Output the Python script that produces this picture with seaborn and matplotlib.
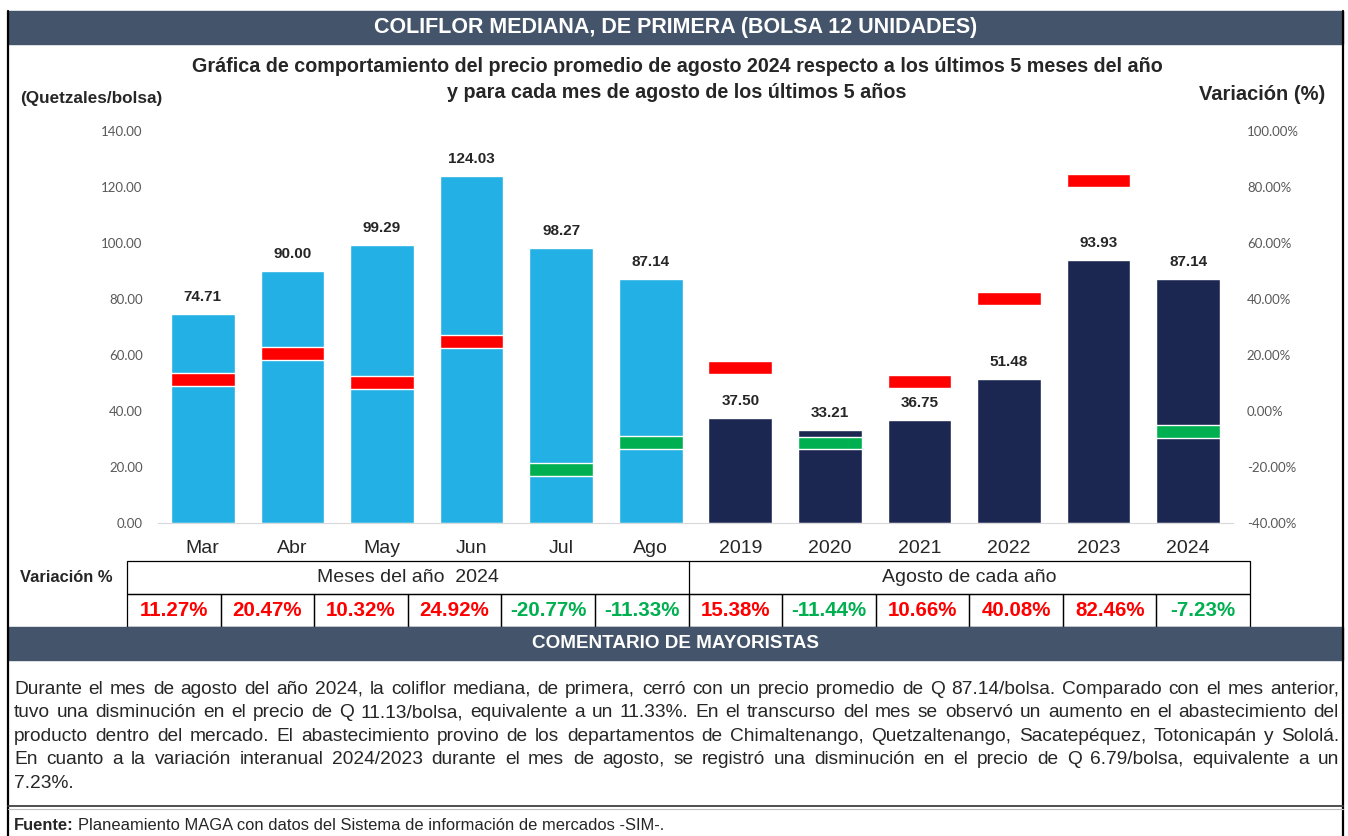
import matplotlib
matplotlib.use("Agg")
import matplotlib.pyplot as plt
import seaborn as sns
import pandas as pd
from matplotlib.patches import Rectangle
from matplotlib.ticker import FuncFormatter

# Data
categories = ['Mar', 'Abr', 'May', 'Jun', 'Jul', 'Ago',
              '2019', '2020', '2021', '2022', '2023', '2024']
groups = ['meses'] * 6 + ['agosto'] * 6
prices = [74.71, 90.00, 99.29, 124.03, 98.27, 87.14,
          37.50, 33.21, 36.75, 51.48, 93.93, 87.14]
variation = [11.27, 20.47, 10.32, 24.92, -20.77, -11.33,
             15.38, -11.44, 10.66, 40.08, 82.46, -7.23]
group_titles = ['Meses del año  2024', 'Agosto de cada año']

comment_lines = [
    "Durante el mes de agosto del año 2024, la coliflor mediana, de primera, cerró con un precio promedio de Q 87.14/bolsa. Comparado con el mes anterior,",
    "tuvo una disminución en el precio de Q 11.13/bolsa, equivalente a un 11.33%. En el transcurso del mes se observó un aumento en el abastecimiento del",
    "producto dentro del mercado. El abastecimiento provino de los departamentos de Chimaltenango, Quetzaltenango, Sacatepéquez, Totonicapán y Sololá.",
    "En cuanto a la variación interanual 2024/2023 durante el mes de agosto, se registró una disminución en el precio de Q 6.79/bolsa, equivalente a un",
    "7.23%.",
]

df = pd.DataFrame({'cat': categories, 'grupo': groups, 'precio': prices, 'var': variation})

sns.set_style('white')
plt.rcParams['font.family'] = ['Liberation Sans', 'DejaVu Sans']

W, H = 1348, 836
fig = plt.figure(figsize=(W / 100, H / 100), dpi=100)
fig.patch.set_facecolor('white')

# overlay axes in pixel coordinates (y grows downwards)
ov = fig.add_axes([0, 0, 1, 1], zorder=0)
ov.set_xlim(0, W)
ov.set_ylim(H, 0)
ov.axis('off')

HEADER = '#44546A'
LIGHT_BLUE = '#23B0E4'
NAVY = '#1C2751'
RED = '#FF0000'
GREEN = '#00B050'

# frame and header bands
ov.plot([8, 8], [11, H], color='black', lw=1.6)
ov.plot([1343, 1343], [11, H], color='black', lw=1.6)
ov.add_patch(Rectangle((8, 11), 1335, 33, color=HEADER))
ov.text(676, 28, 'COLIFLOR MEDIANA, DE PRIMERA (BOLSA 12 UNIDADES)', color='white',
        fontsize=15.5, fontweight='bold', ha='center', va='center')
ov.text(677, 67, 'Gráfica de comportamiento del precio promedio de agosto 2024 respecto a los últimos 5 meses del año',
        fontsize=14.2, fontweight='bold', ha='center', va='center')
ov.text(677, 92, 'y para cada mes de agosto de los últimos 5 años',
        fontsize=14.2, fontweight='bold', ha='center', va='center')
ov.text(20, 98, '(Quetzales/bolsa)', fontsize=12.3, fontweight='bold', ha='left', va='center')
ov.text(1325, 95, 'Variación (%)', fontsize=14.5, fontweight='bold', ha='right', va='center')

# main chart
ax = fig.add_axes([158 / W, 1 - 523 / H, (1233 - 158) / W, (523 - 131) / H], zorder=1)
ax.set_facecolor('none')
sns.barplot(data=df, x='cat', y='precio', hue='grupo', dodge=False, legend=False,
            palette={'meses': LIGHT_BLUE, 'agosto': NAVY}, saturation=1,
            width=0.71, ax=ax)
ax.set_ylim(0, 140)
ax.set_xlim(-0.5, len(categories) - 0.5)
ax.set_yticks(range(0, 141, 20))
ax.yaxis.set_major_formatter(FuncFormatter(lambda v, p: f"{v:.2f}"))
ax.set_xlabel('')
ax.set_ylabel('')
for s in ['top', 'right', 'left']:
    ax.spines[s].set_visible(False)
ax.spines['bottom'].set_color('#D9D9D9')
ax.tick_params(axis='y', length=0, pad=11, labelcolor='#595959', labelsize=9.5)
ax.tick_params(axis='x', length=0, pad=12, labelsize=14)
for lab in ax.get_yticklabels():
    lab.set_family(['Lato', 'Liberation Sans'])
for i, v in enumerate(prices):
    ax.annotate(f"{v:.2f}", (i, v), xytext=(0, 7), textcoords='offset points',
                ha='center', va='bottom', fontsize=11, fontweight='bold')

ax2 = ax.twinx()
ax2.set_ylim(-40, 100)
ax2.set_yticks(range(-40, 101, 20))
ax2.yaxis.set_major_formatter(FuncFormatter(lambda v, p: f"{v:.2f}%"))
for s in ax2.spines.values():
    s.set_visible(False)
ax2.tick_params(axis='y', length=0, pad=10, labelcolor='#595959', labelsize=9.5)
for lab in ax2.get_yticklabels():
    lab.set_family(['Lato', 'Liberation Sans'])
marker_colors = [RED if v >= 0 else GREEN for v in variation]
ax2.bar(range(len(variation)), 4.6, bottom=[v - 2.3 for v in variation],
        width=0.71, color=marker_colors)

# variation table
ov.text(20, 578, 'Variación %', fontsize=11.9, fontweight='bold', ha='left', va='center')
tx0, tx1 = 127, 1250
cw = (tx1 - tx0) / len(categories)
ov.add_patch(Rectangle((tx0, 561), tx1 - tx0, 33, fill=False, ec='black', lw=0.9))
ov.plot([tx0 + 6 * cw] * 2, [561, 594], color='black', lw=0.9)
ov.text(tx0 + 3 * cw, 578, group_titles[0], fontsize=14, ha='center', va='center')
ov.text(tx0 + 9 * cw, 578, group_titles[1], fontsize=14, ha='center', va='center')
for i, v in enumerate(variation):
    ov.add_patch(Rectangle((tx0 + i * cw, 594), cw, 33, fill=False, ec='black', lw=0.9))
    ov.text(tx0 + (i + 0.5) * cw, 611, f"{v:.2f}%", fontsize=14.8, fontweight='bold',
            color=marker_colors[i], ha='center', va='center')

# comment section
ov.add_patch(Rectangle((8, 627), 1335, 33, color=HEADER))
ov.text(676, 644, 'COMENTARIO DE MAYORISTAS', color='white', fontsize=13.6,
        fontweight='bold', ha='center', va='center')

renderer = fig.canvas.get_renderer()
x_left, x_right = 14, 1339
line_base = [694, 717, 741, 764, 788]
for k, line in enumerate(comment_lines):
    words = line.split()
    texts = [ov.text(0, line_base[k], w, fontsize=13.8, ha='left', va='baseline') for w in words]
    widths = [t.get_window_extent(renderer).width for t in texts]
    if k < len(comment_lines) - 1 and len(words) > 1:
        gap = (x_right - x_left - sum(widths)) / (len(words) - 1)
    else:
        gap = 5
    x = x_left
    for t, w in zip(texts, widths):
        t.set_x(x)
        x += w + gap

ov.plot([8, 1343], [806, 806], color='#404040', lw=1.3)
ov.plot([8, 1343], [808.5, 808.5], color='#BFBFBF', lw=0.8)
f1 = ov.text(14, 825, 'Fuente:', fontsize=11.9, fontweight='bold', ha='left', va='center')
fw = f1.get_window_extent(renderer).width
ov.text(14 + fw + 4, 825, 'Planeamiento MAGA con datos del Sistema de información de mercados -SIM-.',
        fontsize=11.9, ha='left', va='center')

fig.savefig('out.png', dpi=100)
